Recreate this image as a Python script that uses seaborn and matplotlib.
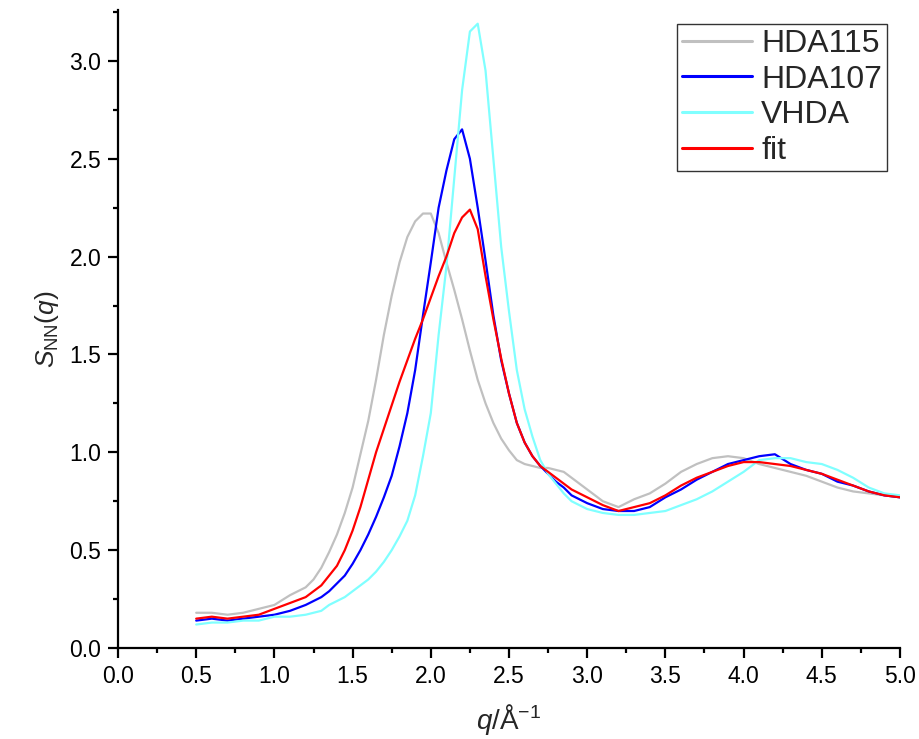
import matplotlib
matplotlib.use("Agg")
import matplotlib.pyplot as plt
import seaborn as sns
import pandas as pd
from matplotlib.ticker import MultipleLocator, FormatStrFormatter

q = [0.5, 0.6, 0.7, 0.8, 0.9, 1.0, 1.1,
     1.2, 1.25, 1.3, 1.35, 1.4, 1.45, 1.5, 1.55, 1.6, 1.65, 1.7, 1.75, 1.8, 1.85,
     1.9, 1.95, 2.0, 2.05, 2.1, 2.15, 2.2, 2.25, 2.3, 2.35, 2.4, 2.45, 2.5, 2.55,
     2.6, 2.65, 2.7, 2.75, 2.8, 2.85, 2.9, 2.95, 3.0,
     3.1, 3.2, 3.3, 3.4, 3.5, 3.6, 3.7, 3.8, 3.9, 4.0, 4.1, 4.2, 4.3, 4.4, 4.5,
     4.6, 4.7, 4.8, 4.9, 5.0]

hda115 = [0.18, 0.18, 0.17, 0.18, 0.20, 0.22, 0.27,
          0.31, 0.35, 0.41, 0.49, 0.58, 0.69, 0.82, 0.99, 1.16, 1.37, 1.60, 1.80, 1.97, 2.10,
          2.18, 2.22, 2.22, 2.12, 1.97, 1.83, 1.68, 1.52, 1.37, 1.25, 1.15, 1.07, 1.01, 0.96,
          0.94, 0.93, 0.92, 0.92, 0.91, 0.90, 0.87, 0.84, 0.81,
          0.75, 0.72, 0.76, 0.79, 0.84, 0.90, 0.94, 0.97, 0.98, 0.97, 0.94, 0.92, 0.90, 0.88, 0.85,
          0.82, 0.80, 0.79, 0.78, 0.77]

hda107 = [0.14, 0.15, 0.14, 0.15, 0.16, 0.17, 0.19,
          0.22, 0.24, 0.26, 0.29, 0.33, 0.37, 0.43, 0.50, 0.58, 0.67, 0.77, 0.88, 1.03, 1.20,
          1.42, 1.70, 1.97, 2.25, 2.44, 2.60, 2.65, 2.50, 2.25, 1.98, 1.70, 1.47, 1.30, 1.15,
          1.05, 0.98, 0.93, 0.89, 0.85, 0.82, 0.78, 0.76, 0.74,
          0.71, 0.70, 0.70, 0.72, 0.77, 0.81, 0.86, 0.90, 0.94, 0.96, 0.98, 0.99, 0.94, 0.91, 0.89,
          0.85, 0.83, 0.80, 0.78, 0.77]

vhda = [0.12, 0.13, 0.13, 0.14, 0.14, 0.16, 0.16,
        0.17, 0.18, 0.19, 0.22, 0.24, 0.26, 0.29, 0.32, 0.35, 0.39, 0.44, 0.50, 0.57, 0.65,
        0.78, 0.98, 1.20, 1.60, 1.95, 2.40, 2.85, 3.15, 3.19, 2.95, 2.50, 2.05, 1.72, 1.42,
        1.22, 1.08, 0.96, 0.89, 0.84, 0.79, 0.75, 0.73, 0.71,
        0.69, 0.68, 0.68, 0.69, 0.70, 0.73, 0.76, 0.80, 0.85, 0.90, 0.96, 0.97, 0.97, 0.95, 0.94,
        0.91, 0.87, 0.82, 0.79, 0.78]

fit = [0.15, 0.16, 0.15, 0.16, 0.17, 0.20, 0.23,
       0.26, 0.29, 0.32, 0.37, 0.42, 0.50, 0.60, 0.72, 0.86, 1.00, 1.12, 1.24, 1.36, 1.47,
       1.58, 1.68, 1.79, 1.90, 2.00, 2.12, 2.20, 2.24, 2.14, 1.90, 1.68, 1.48, 1.30, 1.15,
       1.05, 0.98, 0.93, 0.90, 0.87, 0.84, 0.81, 0.79, 0.77,
       0.73, 0.70, 0.72, 0.74, 0.78, 0.83, 0.87, 0.90, 0.93, 0.95, 0.95, 0.94, 0.93, 0.91, 0.89,
       0.86, 0.83, 0.80, 0.78, 0.77]

series_names = ["HDA115", "HDA107", "VHDA", "fit"]
series_values = [hda115, hda107, vhda, fit]
colors = ["#c0c0c0", "#0000ff", "#80ffff", "#ff0000"]

sns.set_theme(style="ticks")
plt.rcParams["font.family"] = ["Liberation Sans", "DejaVu Sans"]
plt.rcParams["mathtext.fontset"] = "custom"
plt.rcParams["mathtext.rm"] = "Liberation Sans"
plt.rcParams["mathtext.it"] = "Liberation Sans:italic"

fig = plt.figure(figsize=(9.2, 7.39), dpi=100)
ax = fig.add_axes([118 / 920, 91 / 739, 782 / 920, 638 / 739])

for name, vals, c in zip(series_names, series_values, colors):
    df = pd.DataFrame({"q": q, "S": vals})
    sns.lineplot(data=df, x="q", y="S", ax=ax, color=c, linewidth=1.6,
                 label=name, estimator=None, sort=False)

ax.set_xlim(0, 5.0)
ax.set_ylim(0, 3.26)
ax.xaxis.set_major_locator(MultipleLocator(0.5))
ax.xaxis.set_minor_locator(MultipleLocator(0.25))
ax.yaxis.set_major_locator(MultipleLocator(0.5))
ax.yaxis.set_minor_locator(MultipleLocator(0.25))
ax.xaxis.set_major_formatter(FormatStrFormatter("%.1f"))
ax.yaxis.set_major_formatter(FormatStrFormatter("%.1f"))

for s in ["top", "right"]:
    ax.spines[s].set_visible(False)
for s in ["left", "bottom"]:
    ax.spines[s].set_linewidth(1.6)
    ax.spines[s].set_color("black")

ax.tick_params(which="major", direction="out", length=7, width=1.6, labelsize=16.5,
               colors="black", pad=5)
ax.tick_params(which="minor", direction="out", length=3.5, width=1.6, colors="black")

ax.set_xlabel(r"$q$/Å$^{-1}$", fontsize=20, labelpad=10)
ax.set_ylabel(r"$S_{\mathrm{NN}}(q)$", fontsize=19, labelpad=6)

leg = ax.legend(loc="upper right", bbox_to_anchor=(0.983, 0.978), borderaxespad=0,
                fontsize=23, frameon=True, fancybox=False, handlelength=2.2,
                handletextpad=0.28, labelspacing=0.18, borderpad=0.15)
leg.get_frame().set_edgecolor("black")
leg.get_frame().set_linewidth(1.0)
for line in leg.get_lines():
    line.set_linewidth(2.2)

fig.savefig("out.png", dpi=100)
